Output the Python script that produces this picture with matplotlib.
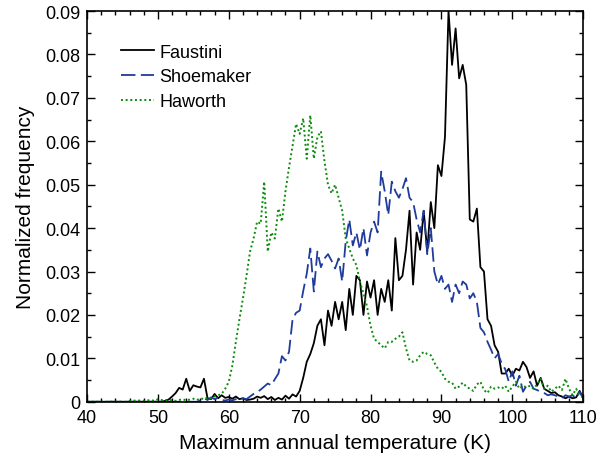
import numpy as np
import matplotlib
matplotlib.use("Agg")
import matplotlib.pyplot as plt
from matplotlib.ticker import MultipleLocator

# ----------------------------
# Histogram data (0.5 K bins)
# ----------------------------

temperature = np.arange(40, 110.5, 0.5)

faustini = [
    0, 0, 0, 0, 0, 0, 0, 0, 0, 0,                                                   # 40-44.5
    0, 0, 0, 0, 0, 0, 0, 0, 0, 0,                                                   # 45-49.5
    0, 0, 0.0002, 0.0005, 0.0012, 0.002, 0.0032, 0.0028, 0.0053, 0.0025,            # 50-54.5
    0.0038, 0.0035, 0.0033, 0.0053, 0.0008, 0.0006, 0.0018, 0.0008, 0.0015, 0.0009, # 55-59.5
    0.0011, 0.0007, 0.0012, 0.0006, 0.0008, 0.0004, 0.0005, 0.0007, 0.0012, 0.0009, # 60-64.5
    0.0013, 0.0006, 0.0011, 0.0004, 0.0009, 0.0005, 0.0014, 0.0007, 0.0017, 0.0012, # 65-69.5
    0.0025, 0.0055, 0.0092, 0.011, 0.0135, 0.0175, 0.019, 0.013, 0.021, 0.0175,     # 70-74.5
    0.023, 0.019, 0.023, 0.0165, 0.026, 0.020, 0.029, 0.028, 0.020, 0.0277,         # 75-79.5
    0.024, 0.028, 0.020, 0.026, 0.023, 0.028, 0.021, 0.0377, 0.028, 0.029,          # 80-84.5
    0.035, 0.044, 0.027, 0.039, 0.035, 0.044, 0.0345, 0.046, 0.040, 0.0545,         # 85-89.5
    0.052, 0.061, 0.090, 0.0776, 0.086, 0.0745, 0.0776, 0.073, 0.042, 0.0415,       # 90-94.5
    0.0445, 0.031, 0.030, 0.019, 0.0175, 0.013, 0.0115, 0.0065, 0.0065, 0.0076,     # 95-99.5
    0.006, 0.0076, 0.0072, 0.0092, 0.008, 0.0055, 0.007, 0.0037, 0.0055, 0.003,     # 100-104.5
    0.0025, 0.002, 0.0022, 0.0015, 0.0012, 0.0008, 0.0012, 0.0008, 0.001, 0.0025,   # 105-109.5
    0.0008,                                                                         # 110
]

shoemaker = [
    0, 0, 0, 0, 0, 0, 0, 0, 0, 0,
    0, 0, 0, 0, 0, 0, 0, 0, 0, 0,
    0, 0, 0, 0, 0, 0, 0, 0, 0, 0,
    0, 0, 0.0003, 0.0008, 0.0004, 0.0010, 0.0006, 0.0009, 0.0004, 0.0003,
    0.0005, 0.0003, 0.0006, 0.0004, 0.0008, 0.0006, 0.0012, 0.0018, 0.0022, 0.0028,
    0.0035, 0.0042, 0.0038, 0.0052, 0.0065, 0.0105, 0.0095, 0.0115, 0.019, 0.0205,
    0.021, 0.0255, 0.0295, 0.0353, 0.0254, 0.0346, 0.031, 0.033, 0.034, 0.0325,
    0.0307, 0.033, 0.0277, 0.037, 0.042, 0.036, 0.039, 0.035, 0.040, 0.0337,
    0.039, 0.0415, 0.039, 0.053, 0.0485, 0.043, 0.0507, 0.0485, 0.047, 0.049,
    0.0515, 0.047, 0.046, 0.042, 0.039, 0.044, 0.034, 0.040, 0.030, 0.027,
    0.029, 0.026, 0.027, 0.023, 0.027, 0.025, 0.0277, 0.027, 0.0238, 0.025,
    0.023, 0.017, 0.016, 0.0138, 0.012, 0.010, 0.011, 0.0088, 0.0075, 0.0046,
    0.007, 0.0037, 0.006, 0.0023, 0.0037, 0.0046, 0.003, 0.0027, 0.0023, 0.002,
    0.0015, 0.0017, 0.0015, 0.0012, 0.0008, 0.0015, 0.0012, 0.0015, 0.0008, 0.0023,
    0.0008,
]

haworth = [
    0, 0, 0, 0, 0, 0, 0, 0, 0, 0,
    0, 0, 0.0002, 0.0003, 0.0002, 0.0003, 0.0002, 0.0003, 0.0004, 0.0002,
    0.0006, 0.0004, 0.0003, 0.0005, 0.0003, 0.0002, 0.0004, 0.0006, 0.0003, 0.0005,
    0.0007, 0.0004, 0.0008, 0.0006, 0.001, 0.0007, 0.0012, 0.0015, 0.0018, 0.003,
    0.0046, 0.0083, 0.0138, 0.019, 0.0238, 0.029, 0.0346, 0.0376, 0.0415, 0.041,
    0.0507, 0.0346, 0.039, 0.0376, 0.0445, 0.0415, 0.0485, 0.054, 0.059, 0.064,
    0.0617, 0.0653, 0.056, 0.066, 0.056, 0.061, 0.0623, 0.0554, 0.050, 0.048,
    0.050, 0.047, 0.044, 0.0376, 0.0353, 0.033, 0.0315, 0.0277, 0.025, 0.022,
    0.0175, 0.0145, 0.0138, 0.013, 0.0123, 0.0138, 0.0138, 0.0145, 0.015, 0.016,
    0.0123, 0.0095, 0.0092, 0.0095, 0.0107, 0.0115, 0.011, 0.0107, 0.009, 0.0076,
    0.0069, 0.0053, 0.0046, 0.0044, 0.003, 0.0035, 0.0044, 0.0035, 0.003, 0.0025,
    0.004, 0.0046, 0.0027, 0.002, 0.0035, 0.003, 0.0033, 0.003, 0.0037, 0.0023,
    0.0035, 0.0046, 0.003, 0.0037, 0.0033, 0.0037, 0.003, 0.004, 0.0053, 0.003,
    0.0037, 0.0023, 0.003, 0.0037, 0.0027, 0.0053, 0.003, 0.0015, 0.003, 0.0015,
    0.001,
]

# ----------------------------
# Plot
# ----------------------------

plt.rcParams["font.family"] = ["Liberation Sans", "DejaVu Sans"]

fig = plt.figure(figsize=(6, 4.64), dpi=100)
ax = fig.add_axes([0.145, 0.132, 0.827, 0.842])

ax.plot(temperature, faustini, color="black", lw=1.3, label="Faustini")
ax.plot(temperature, shoemaker, color="#1f3c9c", lw=1.3,
        dashes=(8, 3), label="Shoemaker")
ax.plot(temperature, haworth, color="#0b8c0b", lw=1.4,
        dashes=(1, 1.4), label="Haworth")

ax.set_xlim(40, 110)
ax.set_ylim(0, 0.09)

ax.xaxis.set_major_locator(MultipleLocator(10))
ax.xaxis.set_minor_locator(MultipleLocator(2))
ax.yaxis.set_major_locator(MultipleLocator(0.01))
ax.yaxis.set_minor_locator(MultipleLocator(0.005))
ax.yaxis.set_major_formatter(lambda v, pos: "0" if v == 0 else f"{v:.2f}")

ax.tick_params(which="both", direction="in", top=True, right=True,
               labelsize=13, width=1.0)
ax.tick_params(which="major", length=6, pad=5)
ax.tick_params(which="minor", length=3)
for spine in ax.spines.values():
    spine.set_linewidth(1.2)

ax.set_xlabel("Maximum annual temperature (K)", fontsize=15, labelpad=5)
ax.set_ylabel("Normalized frequency", fontsize=15, labelpad=7)

ax.legend(loc="upper left", bbox_to_anchor=(0.053, 0.935), frameon=False,
          fontsize=13, handlelength=1.85, handletextpad=0.3,
          labelspacing=0.42, borderaxespad=0)

plt.savefig("out.png", dpi=100)
